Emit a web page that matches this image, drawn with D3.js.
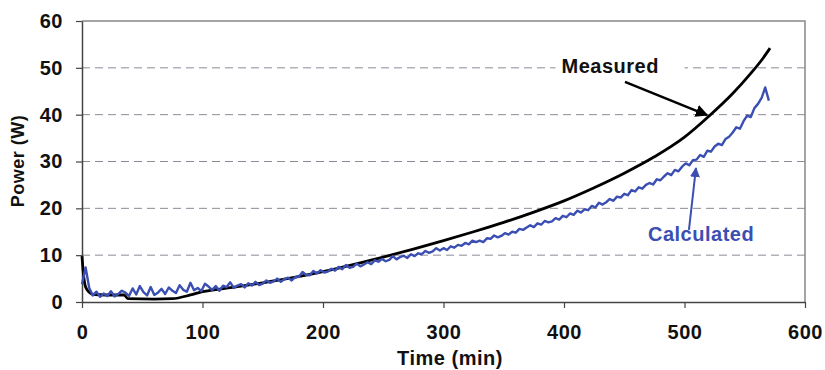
<!DOCTYPE html>
<html>
<head>
<meta charset="utf-8">
<script src="https://cdn.jsdelivr.net/npm/d3@7"></script>
<style>
  body { margin: 0; background: #fff; }
  svg { font-family: "Liberation Sans", Arial, sans-serif; font-weight: bold; letter-spacing: 0.5px; }
</style>
</head>
<body>
<svg id="chart"></svg>
<script>
// measured power, smooth curve: [time (min), power (W)]
var measured = [
  [0, 9.8], [1, 6.5], [3, 3.2], [6, 2.1], [10, 1.6], [20, 1.5], [35, 1.5],
  [38, 0.7], [60, 0.6], [75, 0.7], [90, 1.5], [100, 2.2], [125, 3.1],
  [150, 4.1], [175, 5.2], [200, 6.5], [225, 8.0], [250, 9.6], [275, 11.3],
  [300, 13.1], [325, 15.0], [350, 17.0], [375, 19.2], [400, 21.6],
  [425, 24.4], [450, 27.5], [475, 31.0], [500, 35.2], [520, 39.6],
  [540, 44.5], [555, 48.8], [565, 52.0], [571, 54.2]
];

// calculated power, one reading every 3 min from t = 0
var calcStep = 3;
var calculated = [
  3.8, 7.4, 3.0, 1.4, 2.2, 1.1, 1.8, 1.3, 2.3, 1.2,
  1.7, 2.4, 2.0, 1.3, 2.9, 1.6, 3.4, 2.1, 1.4, 3.2,
  1.5, 2.0, 2.8, 1.7, 3.1, 2.4, 1.9, 3.6, 2.6, 2.2,
  4.1, 2.5, 3.0, 2.3, 3.9, 3.3, 2.6, 3.4, 2.4, 3.5,
  3.2, 4.2, 3.0, 3.5, 3.8, 3.1, 4.0, 3.5, 4.3, 3.6,
  3.9, 4.6, 4.1, 4.4, 5.0, 4.3, 4.9, 5.2, 4.6, 5.3,
  5.4, 6.4, 5.8, 5.7, 6.6, 6.1, 6.8, 6.3, 6.5, 7.1,
  6.7, 7.5, 7.0, 7.9, 7.3, 7.5, 8.2, 7.6, 8.0, 8.5,
  8.1, 8.9, 8.6, 9.2, 8.7, 9.0, 9.8, 9.1, 9.6, 9.9,
  9.4, 10.2, 9.8, 10.4, 10.2, 10.9, 10.5, 10.8, 11.5, 11.0,
  11.5, 11.1, 11.9, 11.6, 12.2, 12.0, 12.6, 12.3, 13.1, 12.8,
  13.1, 12.8, 13.6, 13.5, 14.2, 13.8, 14.1, 14.7, 14.4, 15.0,
  14.8, 15.6, 15.4, 15.9, 16.4, 16.0, 16.8, 16.5, 17.3, 17.0,
  17.2, 17.9, 17.6, 18.4, 18.1, 18.9, 18.6, 19.5, 19.1, 19.8,
  19.6, 20.5, 20.2, 21.2, 20.8, 21.3, 22.0, 21.6, 22.5, 22.3,
  23.1, 22.8, 23.9, 23.6, 24.5, 24.2, 25.0, 25.4, 25.1, 26.2,
  26.0, 26.8, 27.5, 27.1, 28.2, 27.9, 28.9, 29.6, 29.2, 30.3,
  30.4, 31.4, 31.0, 32.3, 32.1, 33.2, 33.8, 33.5, 34.8, 35.3,
  36.2, 37.3, 37.0, 38.6, 39.8, 39.5, 41.4, 42.3, 43.6, 45.8,
  43.0
];

var xTicks = [0, 100, 200, 300, 400, 500, 600];
var yTicks = [0, 10, 20, 30, 40, 50, 60];
var xTitle = "Time (min)";
var yTitle = "Power (W)";

var width = 825, height = 370;
var margin = {top: 21, right: 20, bottom: 68, left: 82};
var blue = "#3b4fb2";

var svg = d3.select("#chart")
  .attr("width", width)
  .attr("height", height);

var x = d3.scaleLinear().domain([0, 600]).range([margin.left, width - margin.right]);
var y = d3.scaleLinear().domain([0, 60]).range([height - margin.bottom, margin.top]);

// dashed gridlines
svg.append("g")
  .selectAll("line")
  .data(yTicks.filter(d => d > 0 && d < 60))
  .enter().append("line")
    .attr("x1", x(0)).attr("x2", x(600))
    .attr("y1", d => y(d)).attr("y2", d => y(d))
    .attr("stroke", "#8c8a96")
    .attr("stroke-width", 1)
    .attr("stroke-dasharray", "8,5");

// plot frame top / right
svg.append("path")
  .attr("d", `M${x(0)},${y(60)}H${x(600)}V${y(0)}`)
  .attr("fill", "none")
  .attr("stroke", "#888")
  .attr("stroke-width", 1.5);

// axes
var xAxis = svg.append("g")
  .attr("transform", `translate(0,${y(0)})`)
  .call(d3.axisBottom(x).tickValues(xTicks).tickSize(6).tickPadding(17).tickSizeOuter(0));
var yAxis = svg.append("g")
  .attr("transform", `translate(${x(0)},0)`)
  .call(d3.axisLeft(y).tickValues(yTicks).tickSize(6).tickPadding(13).tickSizeOuter(0));

[xAxis, yAxis].forEach(g => {
  g.select(".domain").attr("stroke", "#444").attr("stroke-width", 1.5);
  g.selectAll(".tick line").attr("stroke", "#444").attr("stroke-width", 1.2);
  g.selectAll(".tick text")
    .attr("fill", "#111")
    .style("font-size", "20px")
    .style("font-family", "'Liberation Sans', Arial, sans-serif")
    .style("font-weight", "bold");
});

// axis titles
svg.append("text")
  .attr("x", 450).attr("y", 365)
  .attr("text-anchor", "middle")
  .style("font-size", "20px")
  .attr("fill", "#111")
  .text(xTitle);

svg.append("text")
  .attr("transform", "translate(24,161) rotate(-90)")
  .attr("text-anchor", "middle")
  .style("font-size", "18px")
  .attr("fill", "#111")
  .text(yTitle);

// lines: measured underneath, calculated on top
var measLine = d3.line()
  .x(d => x(d[0]))
  .y(d => y(d[1]))
  .curve(d3.curveMonotoneX);

svg.append("path")
  .datum(measured)
  .attr("d", measLine)
  .attr("fill", "none")
  .attr("stroke", "#000")
  .attr("stroke-width", 2.8);

var calcLine = d3.line()
  .x((d, i) => x(i * calcStep))
  .y(d => y(d));

svg.append("path")
  .datum(calculated)
  .attr("d", calcLine)
  .attr("fill", "none")
  .attr("stroke", blue)
  .attr("stroke-width", 2.4)
  .attr("stroke-linejoin", "round");

// arrowheads
var defs = svg.append("defs");
[["arrowBlack", "#000"], ["arrowBlue", blue]].forEach(a => {
  defs.append("marker")
    .attr("id", a[0])
    .attr("viewBox", "0 0 10 10")
    .attr("refX", 9).attr("refY", 5)
    .attr("markerWidth", 5).attr("markerHeight", 5)
    .attr("orient", "auto")
    .append("path")
      .attr("d", "M0,0L10,5L0,10z")
      .attr("fill", a[1]);
});

// annotations
var measLabel = svg.append("g");
measLabel.append("rect")
  .attr("x", x(393)).attr("y", y(52.6))
  .attr("width", x(500) - x(393)).attr("height", 20)
  .attr("fill", "#fff");
measLabel.append("text")
  .attr("x", x(398)).attr("y", y(48.9))
  .style("font-size", "20px")
  .attr("fill", "#111")
  .text("Measured");

svg.append("line")
  .attr("x1", x(450.6)).attr("y1", y(47))
  .attr("x2", x(518.7)).attr("y2", y(39.9))
  .attr("stroke", "#000")
  .attr("stroke-width", 2.5)
  .attr("marker-end", "url(#arrowBlack)");

svg.append("text")
  .attr("x", x(469.7)).attr("y", y(13.0))
  .style("font-size", "20px")
  .attr("fill", blue)
  .text("Calculated");

svg.append("line")
  .attr("x1", x(503.7)).attr("y1", y(15.4))
  .attr("x2", x(509.5)).attr("y2", y(28.6))
  .attr("stroke", blue)
  .attr("stroke-width", 2)
  .attr("marker-end", "url(#arrowBlue)");
</script>
</body>
</html>
